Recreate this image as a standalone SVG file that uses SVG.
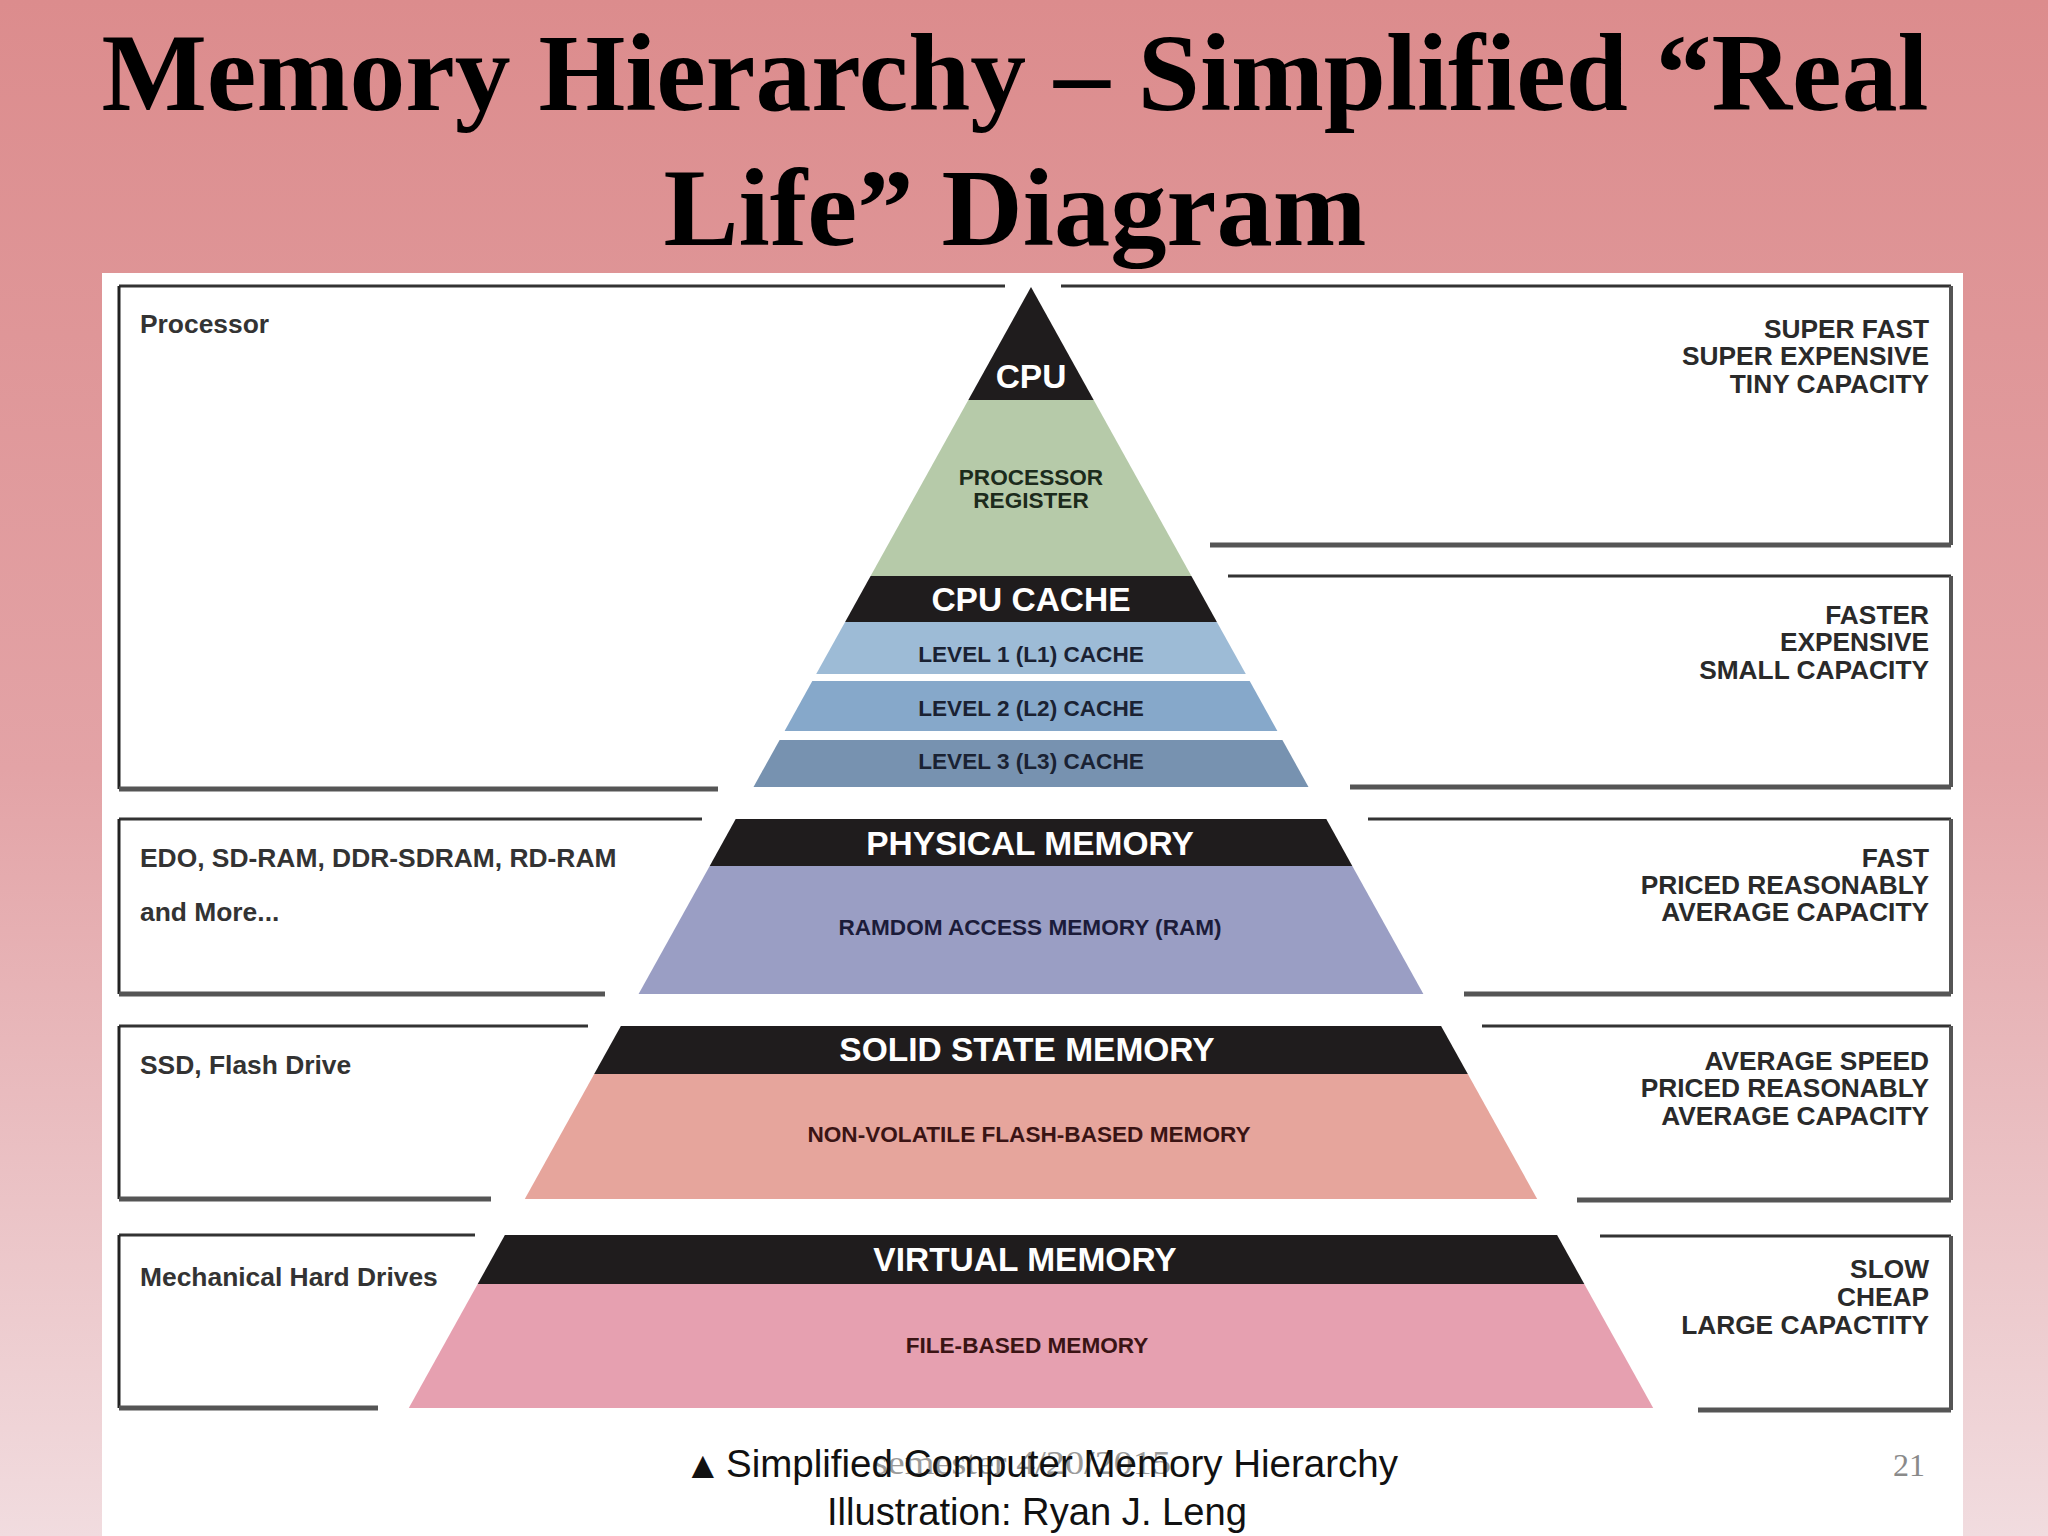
<svg xmlns="http://www.w3.org/2000/svg" width="2048" height="1536" viewBox="0 0 2048 1536">
<defs>
<linearGradient id="bg" x1="0" y1="0" x2="0" y2="1">
<stop offset="0" stop-color="#DC8C8D"/>
<stop offset="0.5" stop-color="#E3A3A6"/>
<stop offset="1" stop-color="#F1DCDF"/>
</linearGradient>
<style>
.title{font-family:"Liberation Serif","Times New Roman",serif;font-weight:bold;font-size:111px;fill:#000;text-anchor:middle}
.band{fill:#1f1c1d}
.wt{font-family:"Liberation Sans",Arial,sans-serif;font-weight:bold;font-size:33.5px;fill:#fff;text-anchor:middle}
.in{font-family:"Liberation Sans",Arial,sans-serif;font-weight:bold;font-size:22.6px;text-anchor:middle}
.lt{font-family:"Liberation Sans",Arial,sans-serif;font-weight:bold;font-size:26.4px;fill:#333}
.rt{font-family:"Liberation Sans",Arial,sans-serif;font-weight:bold;font-size:26.3px;fill:#2a2a2a;text-anchor:end}
.top{stroke:#333;stroke-width:3;fill:none}
.bot{stroke:#555;stroke-width:5;fill:none}
.vl{stroke:#222;stroke-width:3;fill:none}
.vr{stroke:#555;stroke-width:4;fill:none}
.cap{font-family:"Liberation Sans",Arial,sans-serif;font-size:38px;fill:#111}
</style>
</defs>
<rect x="0" y="0" width="2048" height="1536" fill="url(#bg)"/>
<text class="title" x="1015" y="110" textLength="1827" lengthAdjust="spacingAndGlyphs">Memory Hierarchy – Simplified “Real</text>
<text class="title" x="1015" y="245" textLength="703" lengthAdjust="spacingAndGlyphs">Life” Diagram</text>
<rect x="102" y="273" width="1861" height="1263" fill="#fff"/>

<g id="layer-cpu">
<polygon class="band" points="1031,287 1093.7,400 968.3,400"/>
<text class="wt" x="1031" y="388">CPU</text>
</g>
<g id="layer-register">
<polygon fill="#B6CAA9" points="968.3,400 1093.7,400 1191.4,576 870.6,576"/>
<text class="in" x="1031" y="485" fill="#1c2b1c">PROCESSOR</text>
<text class="in" x="1031" y="508" fill="#1c2b1c">REGISTER</text>
</g>
<g id="layer-cache">
<polygon class="band" points="870.6,576 1191.4,576 1216.9,622 845.1,622"/>
<text class="wt" x="1031" y="611">CPU CACHE</text>
<polygon fill="#9DBBD6" points="845.1,622 1216.9,622 1245.8,674 816.2,674"/>
<text class="in" x="1031" y="662" fill="#1a2233">LEVEL 1 (L1) CACHE</text>
<polygon fill="#86A8CA" points="812.3,681 1249.7,681 1277.4,731 784.6,731"/>
<text class="in" x="1031" y="716" fill="#1a2233">LEVEL 2 (L2) CACHE</text>
<polygon fill="#7792B0" points="779.6,740 1282.4,740 1308.5,787 753.5,787"/>
<text class="in" x="1031" y="769" fill="#1a2233">LEVEL 3 (L3) CACHE</text>
</g>
<g id="layer-physical">
<polygon class="band" points="735.7,819 1326.3,819 1352.3,866 709.7,866"/>
<polygon fill="#9A9EC4" points="709.7,866 1352.3,866 1423.4,994 638.6,994"/>
<text class="wt" x="1030" y="855">PHYSICAL MEMORY</text>
<text class="in" x="1030" y="935" fill="#1c1c3a">RAMDOM ACCESS MEMORY (RAM)</text>
</g>
<g id="layer-ssd">
<polygon class="band" points="620.9,1026 1441.1,1026 1467.8,1074 594.2,1074"/>
<polygon fill="#E6A59C" points="594.2,1074 1467.8,1074 1537.2,1199 524.8,1199"/>
<text class="wt" x="1027" y="1061">SOLID STATE MEMORY</text>
<text class="in" x="1029" y="1142" fill="#3a1414">NON-VOLATILE FLASH-BASED MEMORY</text>
</g>
<g id="layer-virtual">
<polygon class="band" points="504.9,1235 1557.1,1235 1584.3,1284 477.7,1284"/>
<polygon fill="#E6A0B0" points="477.7,1284 1584.3,1284 1653.2,1408 408.8,1408"/>
<text class="wt" x="1025" y="1271">VIRTUAL MEMORY</text>
<text class="in" x="1027" y="1353" fill="#3a1414">FILE-BASED MEMORY</text>
</g>

<g id="box-processor">
<path class="top" d="M119,286 H1005"/>
<path class="vl" d="M119,286 V789"/>
<path class="bot" d="M119,789 H718"/>
<text class="lt" x="140" y="333">Processor</text>
</g>
<g id="box-superfast">
<path class="top" d="M1061,286 H1951"/>
<path class="vr" d="M1951,286 V545"/>
<path class="bot" d="M1210,545 H1951"/>
<text class="rt" x="1929" y="338">SUPER FAST</text>
<text class="rt" x="1929" y="365">SUPER EXPENSIVE</text>
<text class="rt" x="1929" y="393">TINY CAPACITY</text>
</g>
<g id="box-faster">
<path class="top" d="M1228,576 H1951"/>
<path class="vr" d="M1951,576 V787"/>
<path class="bot" d="M1350,787 H1951"/>
<text class="rt" x="1929" y="624">FASTER</text>
<text class="rt" x="1929" y="651">EXPENSIVE</text>
<text class="rt" x="1929" y="679">SMALL CAPACITY</text>
</g>
<g id="box-ram">
<path class="top" d="M119,819 H702"/>
<path class="vl" d="M119,819 V994"/>
<path class="bot" d="M119,994 H605"/>
<text class="lt" x="140" y="867">EDO, SD-RAM, DDR-SDRAM, RD-RAM</text>
<text class="lt" x="140" y="921">and More...</text>
</g>
<g id="box-fast">
<path class="top" d="M1368,819 H1951"/>
<path class="vr" d="M1951,819 V994"/>
<path class="bot" d="M1464,994 H1951"/>
<text class="rt" x="1929" y="867">FAST</text>
<text class="rt" x="1929" y="894">PRICED REASONABLY</text>
<text class="rt" x="1929" y="921">AVERAGE CAPACITY</text>
</g>
<g id="box-ssd">
<path class="top" d="M119,1026 H588"/>
<path class="vl" d="M119,1026 V1199"/>
<path class="bot" d="M119,1199 H491"/>
<text class="lt" x="140" y="1074">SSD, Flash Drive</text>
</g>
<g id="box-average">
<path class="top" d="M1482,1026 H1951"/>
<path class="vr" d="M1951,1026 V1200"/>
<path class="bot" d="M1577,1200 H1951"/>
<text class="rt" x="1929" y="1070">AVERAGE SPEED</text>
<text class="rt" x="1929" y="1097">PRICED REASONABLY</text>
<text class="rt" x="1929" y="1125">AVERAGE CAPACITY</text>
</g>
<g id="box-hdd">
<path class="top" d="M119,1235 H475"/>
<path class="vl" d="M119,1235 V1408"/>
<path class="bot" d="M119,1408 H378"/>
<text class="lt" x="140" y="1286">Mechanical Hard Drives</text>
</g>
<g id="box-slow">
<path class="top" d="M1600,1236 H1951"/>
<path class="vr" d="M1951,1236 V1410"/>
<path class="bot" d="M1698,1410 H1951"/>
<text class="rt" x="1929" y="1278">SLOW</text>
<text class="rt" x="1929" y="1306">CHEAP</text>
<text class="rt" x="1929" y="1334">LARGE CAPACTITY</text>
</g>
<g id="connectors"></g>

<text x="873" y="1474" font-family="Liberation Serif, serif" font-size="34" fill="#9a9a9a" textLength="298" lengthAdjust="spacingAndGlyphs">semester 4/20/2015</text>
<text class="cap" x="684" y="1478" font-size="34" font-family="DejaVu Sans, sans-serif">▲</text>
<text class="cap" x="726" y="1477" textLength="672" lengthAdjust="spacingAndGlyphs">Simplified Computer Memory Hierarchy</text>
<text class="cap" x="827" y="1525" textLength="420" lengthAdjust="spacingAndGlyphs">Illustration: Ryan J. Leng</text>
<text x="1893" y="1476" font-family="Liberation Serif, serif" font-size="32" fill="#8a8a8a">21</text>
</svg>
